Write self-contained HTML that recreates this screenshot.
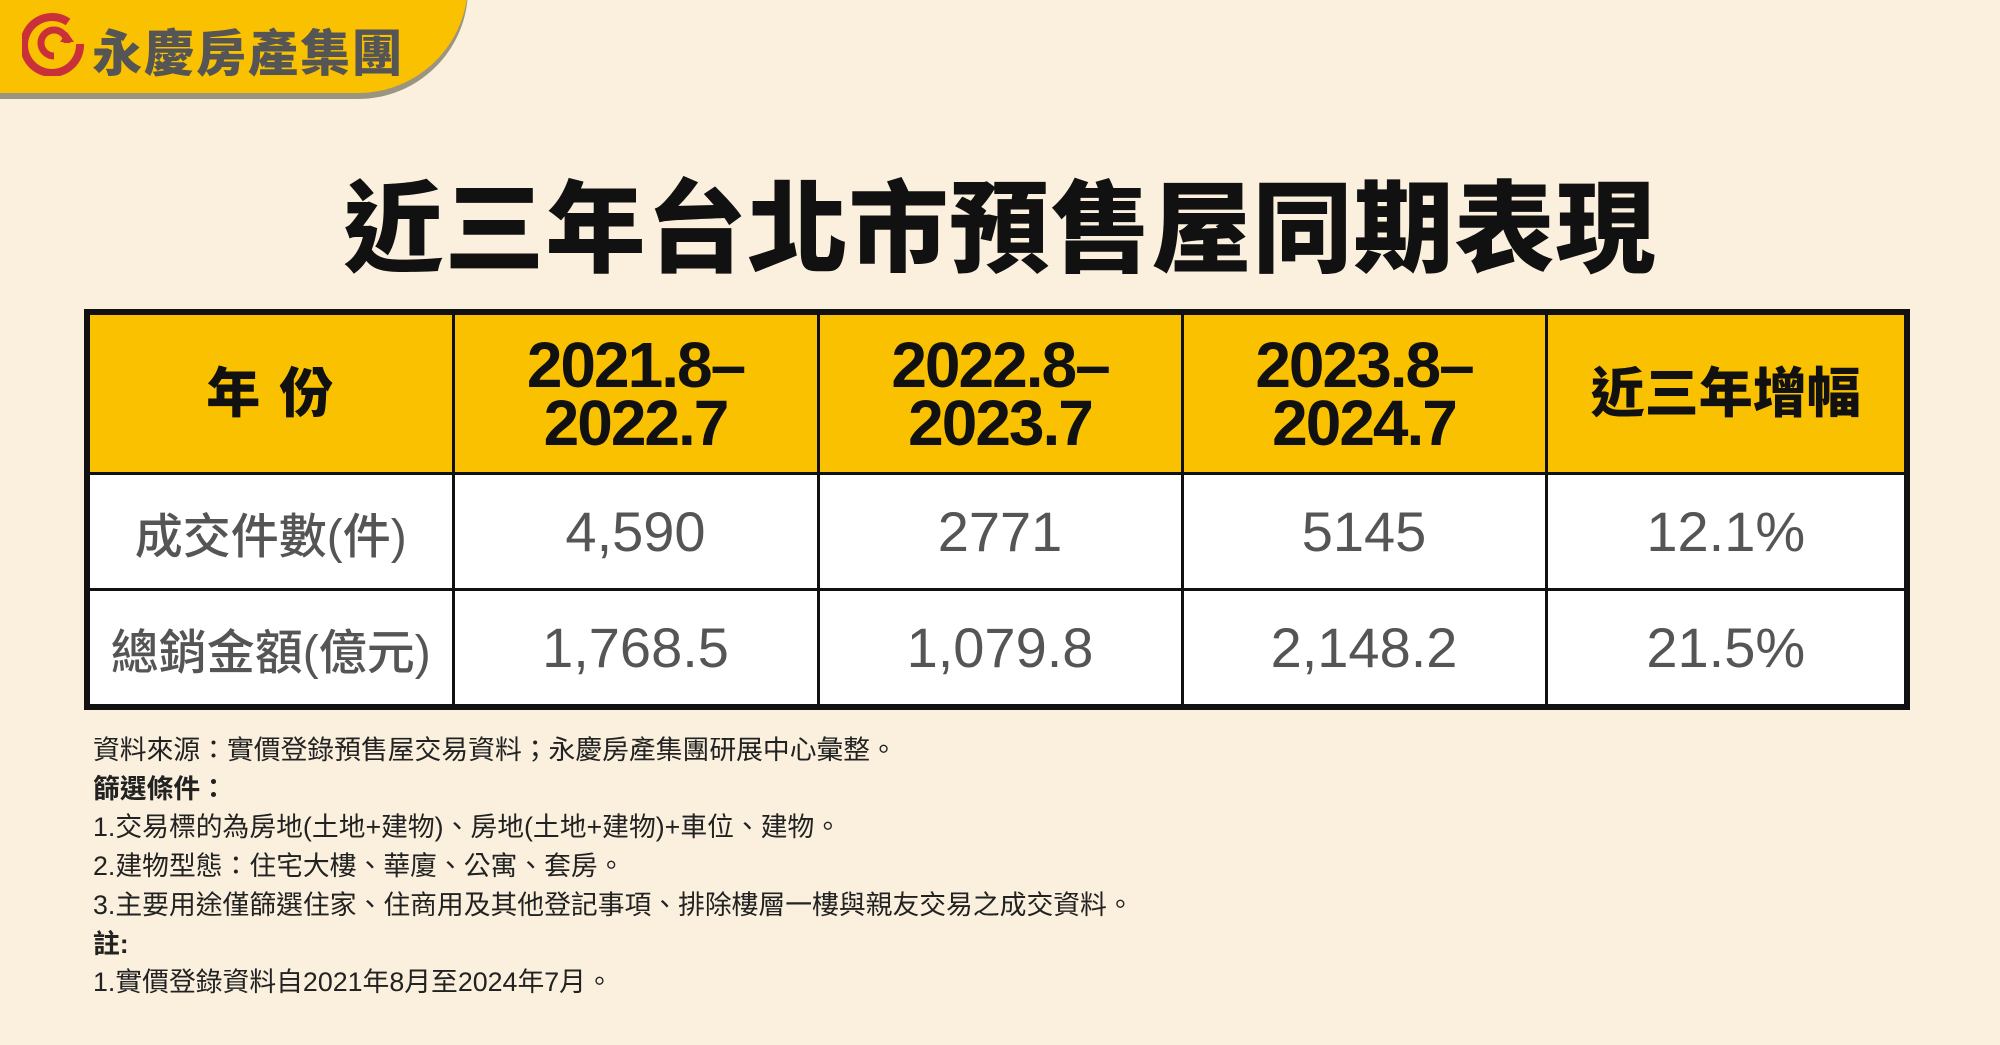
<!DOCTYPE html>
<html><head><meta charset="utf-8"><style>
body{margin:0;width:2000px;height:1045px;background:#faf0dd;position:relative;overflow:hidden;font-family:"Liberation Sans","Noto Sans CJK TC",sans-serif}
.band{position:absolute;left:-20px;top:-40px;width:488px;height:133px;background:#f9c100;border-radius:0 0 110px 0;box-shadow:0 6px 0 #9a9480}
.logo{position:absolute;left:92px;top:14px;font-size:50px;font-weight:900;color:#555;letter-spacing:2px}
.title{position:absolute;left:0;width:2000px;top:180px;text-align:center;font-size:100px;font-weight:900;color:#111;line-height:1;letter-spacing:1px}
table{position:absolute;left:84px;top:309px;width:1826px;height:395px;border-collapse:collapse;border:6px solid #111}
td{border:3px solid #111;text-align:center;padding:0}
tr.h td{background:#f9c100;height:157px;font-weight:900;color:#111;font-size:64px;line-height:58px;letter-spacing:-2px}
tr.h td.cj{font-size:54px;letter-spacing:2px}
tr.r td{background:#fff;color:#555;font-size:56px;height:113px}
tr.r td.l{font-size:48px;font-weight:500}
.notes{position:absolute;left:93px;top:731px;font-size:26.8px;line-height:38.7px;color:#222}
</style></head><body>
<div class="band"></div>
<svg style="position:absolute;left:22px;top:12px" width="64" height="64" viewBox="0 0 64 64">
<path d="M46 10 A28 28 0 1 0 58 32" fill="none" stroke="#c9303a" stroke-width="8"/>
<path d="M32 44 A13 13 0 1 1 45 31" fill="none" stroke="#c9303a" stroke-width="7"/>
<path d="M38 30 L52 30 L45 20 Z" fill="#c9303a"/>
</svg>
<div class="logo">永慶房產集團</div>
<div class="title">近三年台北市預售屋同期表現</div>
<table>
<colgroup><col style="width:366px"><col style="width:365px"><col style="width:364px"><col style="width:364px"><col></colgroup>
<tr class="h"><td class="cj">年&nbsp;份</td><td>2021.8–<br>2022.7</td><td>2022.8–<br>2023.7</td><td>2023.8–<br>2024.7</td><td class="cj" style="letter-spacing:0">近三年增幅</td></tr>
<tr class="r"><td class="l">成交件數(件)</td><td>4,590</td><td>2771</td><td>5145</td><td>12.1%</td></tr>
<tr class="r"><td class="l">總銷金額(億元)</td><td>1,768.5</td><td>1,079.8</td><td>2,148.2</td><td>21.5%</td></tr>
</table>
<div class="notes">資料來源：實價登錄預售屋交易資料；永慶房產集團研展中心彙整。<br><b>篩選條件：</b><br>1.交易標的為房地(土地+建物)、房地(土地+建物)+車位、建物。<br>2.建物型態：住宅大樓、華廈、公寓、套房。<br>3.主要用途僅篩選住家、住商用及其他登記事項、排除樓層一樓與親友交易之成交資料。<br><b>註:</b><br>1.實價登錄資料自2021年8月至2024年7月。</div>
</body></html>
